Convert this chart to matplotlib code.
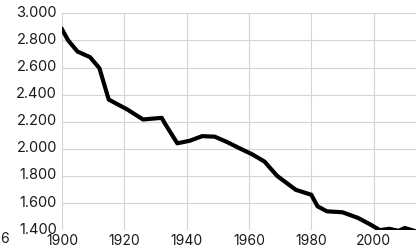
import matplotlib.pyplot as plt
import matplotlib.transforms as mtransforms
from matplotlib.ticker import FuncFormatter

plt.rcParams['font.family'] = ['Inter', 'DejaVu Sans']

# waarden
years = [1900, 1902, 1905, 1909, 1912, 1915, 1921, 1926, 1932, 1933, 1937,
         1941, 1945, 1949, 1953, 1957, 1961, 1965, 1969, 1975, 1980, 1982,
         1985, 1990, 1995, 1999, 2002, 2005, 2008, 2010, 2013]
values = [2883, 2800, 2718, 2677, 2596, 2364, 2290, 2217, 2229, 2188, 2041,
          2060, 2094, 2090, 2050, 2004, 1960, 1906, 1801, 1698, 1661, 1576,
          1539, 1532, 1490, 1441, 1400, 1410, 1395, 1416, 1395]

y_ticks = [1400, 1600, 1800, 2000, 2200, 2400, 2600, 2800, 3000]
x_ticks = [1900, 1920, 1940, 1960, 1980, 2000]

fig = plt.figure(figsize=(4.16, 2.48), dpi=100)
ax = fig.add_axes([0.149, 0.072, 0.899, 0.874])

ax.plot(years, values, color='black', linewidth=3.0, solid_joinstyle='round')

ax.set_xlim(1900, 2020)
ax.set_ylim(1400, 3000)
ax.set_xticks(x_ticks)
ax.set_yticks(y_ticks)
ax.yaxis.set_major_formatter(FuncFormatter(lambda v, p: f'{int(v):,}'.replace(',', '.')))

ax.grid(True, color='#d4d4d4', linewidth=0.8)
ax.set_axisbelow(True)
for s in ax.spines.values():
    s.set_visible(False)
ax.tick_params(length=0, labelsize=10.5, colors='#1a1a1a')
ax.tick_params(axis='y', pad=3.5)
ax.tick_params(axis='x', labelsize=10, pad=2.5)

# y-labels iets omhoog zodat 1.400 niet tegen 1900 aan komt
shift = mtransforms.ScaledTranslation(0, 2 / 100, fig.dpi_scale_trans)
for lbl in ax.get_yticklabels():
    lbl.set_transform(lbl.get_transform() + shift)

fig.text(0.0, 0.035, '6', fontsize=10, color='#1a1a1a', ha='left', va='center')

fig.savefig('out.png', dpi=100)
